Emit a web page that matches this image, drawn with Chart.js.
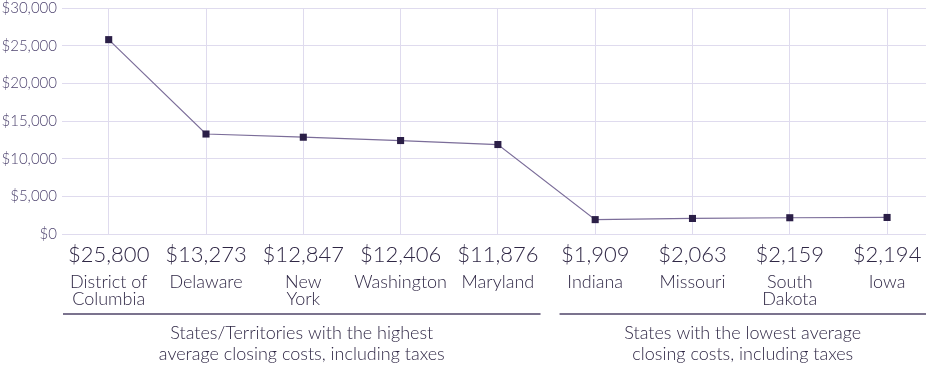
<!DOCTYPE html>
<html>
<head>
<meta charset="utf-8">
<script src="https://cdn.jsdelivr.net/npm/chart.js@4"></script>
<style>
  html, body { margin: 0; padding: 0; background: #fff; }
  #wrap { width: 935px; height: 371px; }
</style>
</head>
<body>
<div id="wrap"><canvas id="myChart" width="935" height="371"></canvas></div>
<script>
// data
var states = ['District of\nColumbia', 'Delaware', 'New\nYork', 'Washington', 'Maryland', 'Indiana', 'Missouri', 'South\nDakota', 'Iowa'];
var costs = [25800, 13273, 12847, 12406, 11876, 1909, 2063, 2159, 2194];
var yTicks = [0, 5000, 10000, 15000, 20000, 25000, 30000];
var groupNames = [
  'States/Territories with the highest\naverage closing costs, including taxes',
  'States with the lowest average\nclosing costs, including taxes'
];
var groupSizes = [5, 4];

var textColor = '#2f2745';
var font = 'Lato, "Open Sans", sans-serif';

function money(v){
  return '$' + v.toLocaleString('en-US');
}

//plugin qui dessine les labels x et les groupes
var labelsPlugin = {
  id: 'labelsPlugin',
  afterDraw: function(chart){
    var ctx = chart.ctx;
    var x = chart.scales.x;
    var area = chart.chartArea;
    ctx.save();
    ctx.fillStyle = textColor;
    ctx.textAlign = 'center';
    ctx.textBaseline = 'middle';
    for (var i = 0; i < states.length; i++) {
      var px = x.getPixelForValue(i);
      ctx.font = '300 22px ' + font;
      ctx.fillText(money(costs[i]), px, 255);
      ctx.font = '300 18px ' + font;
      var lines = states[i].split('\n');
      for (var j = 0; j < lines.length; j++) {
        ctx.fillText(lines[j], px, 282 + j * 17);
      }
    }
    // groupes
    var start = 0;
    for (var g = 0; g < groupSizes.length; g++) {
      var end = start + groupSizes[g] - 1;
      var left = g == 0 ? area.left + 1 : x.getPixelForValue(start - 0.5) + 13;
      var right = g == groupSizes.length - 1 ? area.right : x.getPixelForValue(end + 0.5) - 6;
      ctx.strokeStyle = '#4f4568';
      ctx.lineWidth = 1.5;
      ctx.beginPath();
      ctx.moveTo(left, 314);
      ctx.lineTo(right, 314);
      ctx.stroke();
      ctx.font = '300 18px ' + font;
      var gl = groupNames[g].split('\n');
      for (var k = 0; k < gl.length; k++) {
        ctx.fillText(gl[k], (left + right) / 2, 333 + k * 21);
      }
      start = end + 1;
    }
    ctx.restore();
  }
};

new Chart(document.getElementById('myChart'), {
  type: 'line',
  data: {
    datasets: [{
      data: costs.map(function(v, i){ return {x: i, y: v}; }),
      borderColor: '#7b6d99',
      borderWidth: 1.2,
      pointStyle: 'rect',
      pointRadius: 5,
      pointBackgroundColor: '#2b1f47',
      pointBorderColor: '#2b1f47',
      pointBorderWidth: 0,
      tension: 0
    }]
  },
  options: {
    responsive: false,
    animation: false,
    layout: { padding: { top: 8, right: 9, bottom: 137, left: 0 } },
    plugins: { legend: { display: false }, tooltip: { enabled: false } },
    scales: {
      x: {
        type: 'linear',
        min: -0.48,
        max: 8.4,
        afterBuildTicks: function(axis){
          axis.ticks = states.map(function(s, i){ return {value: i}; });
        },
        ticks: { display: false },
        border: { display: false },
        grid: { color: '#dfdbee', lineWidth: 1, drawTicks: false }
      },
      y: {
        min: 0,
        max: 30000,
        afterBuildTicks: function(axis){
          axis.ticks = yTicks.map(function(v){ return {value: v}; });
        },
        afterFit: function(axis){
          axis.paddingTop = 0;
          axis.paddingBottom = 0;
          axis.width = 62;
        },
        ticks: {
          callback: function(v){ return money(v); },
          color: '#4f4570',
          font: { family: font, size: 15, weight: 300 },
          padding: 5
        },
        border: { display: false },
        grid: { color: '#dfdbee', lineWidth: 1, drawTicks: false }
      }
    }
  },
  plugins: [labelsPlugin]
});
</script>
</body>
</html>
